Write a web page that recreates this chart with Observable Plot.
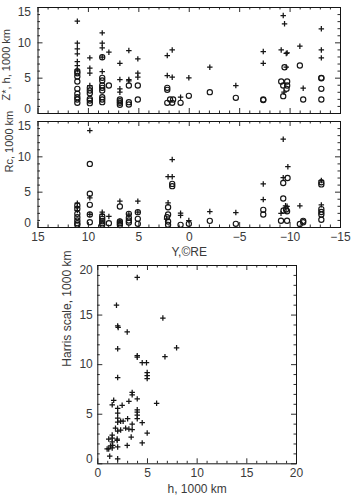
<!DOCTYPE html>
<html>
<head>
<meta charset="utf-8">
<script src="https://cdn.jsdelivr.net/npm/d3@7"></script>
<script src="https://cdn.jsdelivr.net/npm/@observablehq/plot@0.6"></script>
<style>
  html, body { margin: 0; padding: 0; background: #fff; }
  #chart { position: relative; width: 355px; height: 498px; overflow: hidden; }
  #chart svg { position: absolute; left: 0; }
</style>
</head>
<body>
<div id="chart"></div>
<script>
// Panel 1: Z* (+) and h (o) versus Y, in 1000 km; pairs are [Y (RE), value]
const zStar = [
  [11.1, 13.06], [11.1, 9.95], [11.1, 9.15], [11.1, 8.44], [11.1, 7.35], [11.1, 6.79], [11.1, 6.18],
  [9.86, 7.87], [9.86, 6.41], [9.86, 5.7], [9.86, 3.96],
  [8.63, 11.41], [8.63, 9.95], [8.63, 9.29], [8.63, 7.96], [8.63, 5.94],
  [7.97, 8.67],
  [6.88, 7.11], [6.88, 4.81], [6.88, 3.49], [6.88, 3.02],
  [5.99, 8.91], [5.99, 4.81], [5.99, 4.6],
  [5.1, 7.73], [5.1, 5.7], [5.1, 5.14],
  [2.18, 8.2], [2.18, 5.37], [1.69, 9.0], [1.69, 5.14],
  [0.86, 2.31],
  [0.04, 5.05],
  [-2.04, 6.55],
  [-4.62, 3.96],
  [-7.34, 8.77], [-7.34, 7.11],
  [-9.32, 13.86], [-9.45, 12.69], [-9.12, 9.0], [-9.71, 8.58], [-9.62, 8.5], [-9.62, 6.55], [-9.4, 3.02],
  [-10.97, 9.52],
  [-11.3, 3.58],
  [-13.1, 11.98], [-13.1, 9.0], [-13.1, 7.87]
];
const hTop = [
  [11.1, 5.99], [11.1, 5.7], [11.1, 5.23], [11.1, 4.53], [11.1, 3.49], [11.1, 2.79], [11.1, 2.31], [11.1, 1.98], [11.1, 1.51],
  [9.86, 3.63], [9.86, 3.25], [9.86, 2.87], [9.86, 2.08], [9.86, 1.84], [9.86, 1.46],
  [8.63, 7.96], [8.63, 5.05], [8.63, 4.67], [8.63, 3.96], [8.63, 3.63], [8.63, 3.25], [8.63, 2.31], [8.63, 1.98], [8.63, 1.6],
  [7.97, 3.96],
  [6.88, 1.98], [6.88, 1.74], [6.88, 1.51], [6.88, 1.23],
  [5.99, 3.96], [5.99, 1.6], [5.99, 1.27],
  [5.1, 3.96], [5.1, 1.98],
  [2.18, 3.63], [2.18, 3.35], [2.18, 1.51], [1.9, 1.98], [1.6, 1.98], [1.69, 1.51],
  [0.86, 1.51],
  [0.04, 2.5],
  [-2.04, 3.02],
  [-4.62, 2.22],
  [-7.34, 1.98], [-7.34, 1.9],
  [-9.45, 6.55], [-9.12, 4.53], [-9.71, 4.53], [-9.32, 3.96], [-9.71, 3.96], [-9.65, 3.49], [-9.32, 2.45],
  [-10.97, 6.79],
  [-11.3, 1.98],
  [-13.1, 4.99], [-13.1, 5.05], [-13.1, 3.49], [-13.1, 1.98]
];

// Panel 2: Rc (+ and o) versus Y, in 1000 km
const rcPlus = [
  [11.1, 3.44], [11.1, 2.87], [11.1, 2.4],
  [9.86, 13.72], [9.86, 4.2], [9.86, 1.84],
  [8.63, 2.17], [8.63, 1.84],
  [7.97, 1.56],
  [6.88, 3.72], [6.88, 0.9],
  [5.99, 1.9],
  [5.1, 3.72], [5.1, 2.17],
  [2.1, 7.19], [2.1, 3.49], [1.69, 9.62], [1.69, 7.19], [2.25, 1.2],
  [0.86, 2.03], [0.86, 1.7],
  [0.04, 0.99],
  [-2.04, 2.26],
  [-4.62, 2.12],
  [-7.34, 6.17], [-7.34, 3.96],
  [-9.32, 12.5], [-9.78, 8.6], [-9.32, 7.05], [-9.55, 3.07], [-9.7, 3.0], [-9.1, 2.0],
  [-10.97, 3.07],
  [-13.1, 6.65], [-13.1, 3.2]
];
const rcCircle = [
  [11.1, 3.11], [11.1, 2.64], [11.1, 1.93], [11.1, 1.46], [11.1, 0.99], [11.1, 0.61], [11.1, 0.38],
  [9.86, 9.0], [9.86, 4.77], [9.86, 3.21], [9.86, 1.84], [9.86, 0.75],
  [8.63, 1.56], [8.63, 1.23], [8.63, 0.89], [8.63, 0.61], [8.63, 0.38],
  [7.97, 0.61],
  [6.88, 2.97], [6.88, 0.85], [6.88, 0.6], [6.88, 0.35],
  [5.99, 1.93], [5.99, 1.37], [5.99, 0.99], [5.99, 0.71],
  [5.1, 2.17], [5.1, 1.23], [5.1, 0.52],
  [1.69, 6.17], [1.69, 5.85],
  [2.1, 2.87], [2.1, 1.84], [2.2, 1.46], [2.1, 0.85], [2.1, 0.38],
  [0.86, 0.38],
  [0.04, 0.52],
  [-2.04, 0.94],
  [-4.62, 0.52],
  [-7.34, 2.5], [-7.34, 1.84],
  [-9.75, 7.0], [-9.32, 6.3], [-9.32, 4.1], [-9.6, 2.55], [-9.35, 2.4], [-9.7, 2.3], [-9.1, 0.95], [-9.7, 0.95],
  [-10.97, 0.5],
  [-11.3, 0.94], [-11.3, 0.75],
  [-13.1, 6.4], [-13.1, 6.1], [-13.1, 2.6], [-13.1, 2.2], [-13.1, 1.84], [-13.1, 1.1]
];

// Panel 3: Harris scale versus h; pairs are [h, Harris scale], 1000 km
const harris = [
  [3.97, 18.8], [1.88, 16.0], [2.0, 13.9], [2.05, 13.75], [2.96, 13.3], [6.55, 14.7],
  [2.0, 11.6], [3.97, 10.9], [3.97, 10.75], [7.93, 11.7], [6.76, 10.8], [4.47, 10.2], [4.9, 10.2],
  [4.97, 9.2], [4.97, 8.9], [4.97, 8.6], [2.0, 8.7],
  [3.46, 7.2], [3.46, 6.95], [3.13, 6.3], [3.97, 6.55], [5.92, 6.1], [1.6, 6.4], [1.45, 5.95],
  [2.0, 5.6], [3.97, 5.45], [3.97, 5.2], [2.0, 5.1], [2.45, 5.9], [3.97, 4.9], [3.97, 4.55],
  [2.0, 4.6], [2.3, 4.3], [2.55, 4.3], [3.0, 4.55], [4.47, 4.15], [2.0, 4.2], [3.46, 4.0],
  [1.78, 3.6], [2.8, 3.6], [3.13, 3.5], [2.3, 3.4], [2.0, 3.3], [3.46, 3.45], [4.97, 3.1],
  [3.36, 2.7], [1.45, 2.9], [1.45, 2.6], [1.95, 2.5], [1.95, 2.35], [1.1, 2.5], [1.45, 2.2],
  [4.47, 2.1], [2.96, 1.85], [2.0, 1.7], [1.28, 1.8], [1.5, 1.85], [0.94, 1.5], [1.1, 1.5],
  [1.45, 1.6], [1.2, 0.77], [2.0, 0.5]
];

// Axis ticks and labels
const posTicks = [15, 10, 5, 0, -5, -10, -15];
const posTickLabels = ["15", "10", "5", "0", "\u22125", "\u221210", "\u221215"];
const kmTicks15 = [0, 5, 10, 15];
const kmTicks20 = [0, 5, 10, 15, 20];

const titleTop = "Z*, h, 1000 km";
const titleMid = "Rc, 1000 km";
const titlePos = "Y,\u00A9RE";
const titleHarrisY = "Harris scale, 1000 km";
const titleHarrisX = "h, 1000 km";

const ink = "#151515";
const textInk = "#3a3a3a";
const font = "'Liberation Sans', Arial, sans-serif";

// Inward-pointing ticks on all four edges of a panel
function edgeTicks(xMajor, xMinor, yMajor, yMinor, fw, fh) {
  const maj = 5, mnr = 2.5;
  const o = {stroke: ink, strokeWidth: 0.9};
  return [
    Plot.tickX(xMajor, {x: d => d, insetTop: fh - maj, ...o}),
    Plot.tickX(xMajor, {x: d => d, insetBottom: fh - maj, ...o}),
    Plot.tickX(xMinor, {x: d => d, insetTop: fh - mnr, ...o}),
    Plot.tickX(xMinor, {x: d => d, insetBottom: fh - mnr, ...o}),
    Plot.tickY(yMajor, {y: d => d, insetRight: fw - maj, ...o}),
    Plot.tickY(yMajor, {y: d => d, insetLeft: fw - maj, ...o}),
    Plot.tickY(yMinor, {y: d => d, insetRight: fw - mnr, ...o}),
    Plot.tickY(yMinor, {y: d => d, insetLeft: fw - mnr, ...o})
  ];
}
const minorsBetween = (lo, hi, majors) => d3.range(lo, hi + 0.001, 1).filter(v => !majors.includes(v));

// Y tick labels, with the end labels nudged inside the frame
function yLabels(ticks, lo, hi, dx) {
  const base = {frameAnchor: "left", textAnchor: "end", dx, fill: textInk, fontSize: 12, text: d => String(d)};
  return [
    Plot.text(ticks.filter(t => t !== lo && t !== hi), {y: d => d, ...base}),
    Plot.text([hi], {y: d => d, dy: 4.8, ...base}),
    Plot.text([lo], {y: d => d, dy: -4.5, ...base})
  ];
}

const style = {fontFamily: font, fontSize: "12px", color: textInk, background: "transparent", overflow: "visible"};
const plusDot = (data) => Plot.dot(data, {x: d => d[0], y: d => d[1], symbol: "plus", r: 1.9, stroke: ink, strokeWidth: 1.25});
const ringDot = (data) => Plot.dot(data, {x: d => d[0], y: d => d[1], r: 2.6, stroke: ink, strokeWidth: 1.15, fill: "none"});

const chart = document.getElementById("chart");

// ---- Panel 1 ----
{
  const mL = 37.5, mR = 15, mT = 7, mB = 5, W = 355, H = 118;
  const fw = W - mL - mR, fh = H - mT - mB;
  const p = Plot.plot({
    width: W, height: H, marginLeft: mL, marginRight: mR, marginTop: mT, marginBottom: mB,
    style,
    x: {domain: [15, -15], axis: null},
    y: {domain: [0, 15], axis: null},
    marks: [
      ...edgeTicks(posTicks, minorsBetween(-15, 15, posTicks), kmTicks15, minorsBetween(0, 15, kmTicks15), fw, fh),
      Plot.frame({stroke: ink, strokeWidth: 1}),
      ringDot(hTop),
      plusDot(zStar),
      ...yLabels(kmTicks15, 0, 15, -7),
      // axis title runs upward from just above the bottom of the frame
      Plot.text([titleTop], {frameAnchor: "bottom-left", dx: -28.5, dy: -13, rotate: -90, textAnchor: "start", text: d => d, fill: textInk, fontSize: 11})
    ]
  });
  p.style.top = "0px";
  chart.appendChild(p);
}

// ---- Panel 2 ----
{
  const mL = 37.5, mR = 15, mT = 6, mB = 35, W = 355, H = 147;
  const fw = W - mL - mR, fh = H - mT - mB;
  const p = Plot.plot({
    width: W, height: H, marginLeft: mL, marginRight: mR, marginTop: mT, marginBottom: mB,
    style,
    x: {domain: [15, -15], axis: null},
    y: {domain: [0, 15], axis: null},
    marks: [
      ...edgeTicks(posTicks, minorsBetween(-15, 15, posTicks), kmTicks15, minorsBetween(0, 15, kmTicks15), fw, fh),
      Plot.frame({stroke: ink, strokeWidth: 1}),
      ringDot(rcCircle),
      plusDot(rcPlus),
      ...yLabels(kmTicks15, 0, 15, -7),
      Plot.text(posTicks, {x: d => d, frameAnchor: "bottom", dy: 13, text: (d, i) => posTickLabels[i], fill: textInk, fontSize: 12}),
      Plot.text([titlePos], {frameAnchor: "bottom", dy: 28, text: d => d, fill: textInk, fontSize: 12}),
      Plot.text([titleMid], {frameAnchor: "left", dx: -28.5, dy: -2, rotate: -90, text: d => d, fill: textInk, fontSize: 11})
    ]
  });
  p.style.top = "115px";
  chart.appendChild(p);
}

// ---- Panel 3 ----
{
  const mL = 97.3, mR = 59, mT = 3, mB = 34.7, W = 355, H = 236;
  const fw = W - mL - mR, fh = H - mT - mB;
  const p = Plot.plot({
    width: W, height: H, marginLeft: mL, marginRight: mR, marginTop: mT, marginBottom: mB,
    style,
    x: {domain: [0, 20], axis: null},
    y: {domain: [0, 20], axis: null},
    marks: [
      ...edgeTicks(kmTicks20, minorsBetween(0, 20, kmTicks20), kmTicks20, minorsBetween(0, 20, kmTicks20), fw, fh),
      Plot.frame({stroke: ink, strokeWidth: 1}),
      plusDot(harris),
      ...yLabels(kmTicks20, 0, 20, -5),
      Plot.text(kmTicks20, {x: d => d, frameAnchor: "bottom", dy: 13.4, text: d => String(d), fill: textInk, fontSize: 12}),
      Plot.text([titleHarrisX], {frameAnchor: "bottom", dy: 28.7, text: d => d, fill: textInk, fontSize: 12}),
      Plot.text([titleHarrisY], {frameAnchor: "left", dx: -30.6, dy: 2, rotate: -90, text: d => d, fill: textInk, fontSize: 12})
    ]
  });
  p.style.top = "262px";
  chart.appendChild(p);
}
</script>
</body>
</html>
